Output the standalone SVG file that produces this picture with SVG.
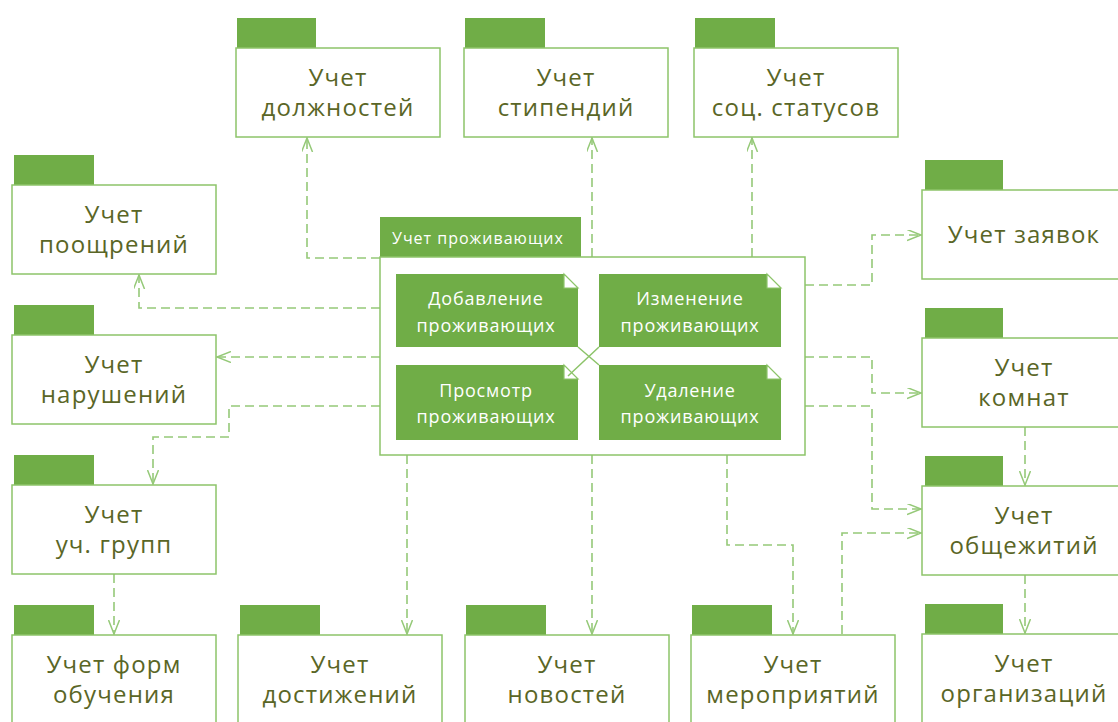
<svg xmlns="http://www.w3.org/2000/svg" width="1118" height="722" viewBox="0 0 1118 722">
<style>
.tab{fill:#70ad47}
.box{fill:#fff;stroke:#8dc46a;stroke-width:1.5}
.t{font-family:"Open Sans","Liberation Sans",sans-serif;font-size:24px;fill:#5a6626;text-anchor:middle;letter-spacing:1.2px}
.n{font-family:"Open Sans","Liberation Sans",sans-serif;font-size:18px;fill:#fff;text-anchor:middle;letter-spacing:0.8px}
.note{fill:#70ad47}
.fold{fill:#fff;stroke:#8dc46a;stroke-width:1.2}
.c{fill:none;stroke:#95c978;stroke-width:1.6;stroke-dasharray:9,5}
.x{fill:none;stroke:#8dc46a;stroke-width:1.5}
</style>
<defs>
<marker id="a" markerUnits="userSpaceOnUse" markerWidth="16" markerHeight="12" refX="14" refY="5.5" orient="auto">
<path d="M0,0 L14,5.5 L0,11" fill="none" stroke="#95c978" stroke-width="1.5"/>
</marker>
</defs>
<rect width="1118" height="722" fill="#fff"/>
<g id="connectors">
<path class="c" d="M380,258 H307 V138" marker-end="url(#a)"/>
<path class="c" d="M592,257 V138" marker-end="url(#a)"/>
<path class="c" d="M752,257 V138" marker-end="url(#a)"/>
<path class="c" d="M380,308 H139 V275" marker-end="url(#a)"/>
<path class="c" d="M380,357 H217" marker-end="url(#a)"/>
<path class="c" d="M380,406 H229 V437 H153 V484" marker-end="url(#a)"/>
<path class="c" d="M114,574 V634" marker-end="url(#a)"/>
<path class="c" d="M407,455 V634" marker-end="url(#a)"/>
<path class="c" d="M592,455 V634" marker-end="url(#a)"/>
<path class="c" d="M727,455 V545 H793 V634" marker-end="url(#a)"/>
<path class="c" d="M842,634 V533 H921" marker-end="url(#a)"/>
<path class="c" d="M805,285 H872 V235 H921" marker-end="url(#a)"/>
<path class="c" d="M805,357 H872 V393 H921" marker-end="url(#a)"/>
<path class="c" d="M805,406 H872 V509 H921" marker-end="url(#a)"/>
<path class="c" d="M1025,427 V485" marker-end="url(#a)"/>
<path class="c" d="M1025,575 V633" marker-end="url(#a)"/>
</g>
<g id="center">
<rect class="tab" x="380" y="217" width="201" height="40"/>
<text x="392" y="244" font-family="Open Sans, Liberation Sans, sans-serif" font-size="16" fill="#fff" letter-spacing="1">Учет проживающих</text>
<rect class="box" x="380" y="257" width="425" height="198"/>
<g id="n1"><polygon class="note" points="396,274 564,274 578,288 578,347 396,347"/><polygon class="fold" points="564,274 564,288 578,288"/>
<text class="n" x="486" y="305">Добавление</text><text class="n" x="486" y="332">проживающих</text></g>
<g id="n2"><polygon class="note" points="599,274 767,274 781,288 781,347 599,347"/><polygon class="fold" points="767,274 767,288 781,288"/>
<text class="n" x="690" y="305">Изменение</text><text class="n" x="690" y="332">проживающих</text></g>
<g id="n3"><polygon class="note" points="396,365 564,365 578,379 578,440 396,440"/><polygon class="fold" points="564,365 564,379 578,379"/>
<text class="n" x="486" y="397">Просмотр</text><text class="n" x="486" y="423">проживающих</text></g>
<g id="n4"><polygon class="note" points="599,365 767,365 781,379 781,440 599,440"/><polygon class="fold" points="767,365 767,379 781,379"/>
<text class="n" x="690" y="397">Удаление</text><text class="n" x="690" y="423">проживающих</text></g>
<path class="x" d="M578,347 L599,365 M599,347 L568,376"/>
</g>
<g id="p-dolzh"><rect class="tab" x="237" y="18" width="79" height="30"/><rect class="box" x="236" y="48" width="204" height="89"/><text class="t" x="338" y="86">Учет</text><text class="t" x="338" y="116">должностей</text></g>
<g id="p-stip"><rect class="tab" x="465" y="18" width="80" height="30"/><rect class="box" x="464" y="48" width="204" height="89"/><text class="t" x="566" y="86">Учет</text><text class="t" x="566" y="116">стипендий</text></g>
<g id="p-soc"><rect class="tab" x="695" y="18" width="80" height="30"/><rect class="box" x="694" y="48" width="204" height="89"/><text class="t" x="796" y="86">Учет</text><text class="t" x="796" y="116">соц. статусов</text></g>
<g id="p-poosh"><rect class="tab" x="14" y="155" width="80" height="30"/><rect class="box" x="12" y="185" width="204" height="89"/><text class="t" x="114" y="223">Учет</text><text class="t" x="114" y="253">поощрений</text></g>
<g id="p-narush"><rect class="tab" x="14" y="305" width="80" height="30"/><rect class="box" x="12" y="335" width="204" height="89"/><text class="t" x="114" y="373">Учет</text><text class="t" x="114" y="403">нарушений</text></g>
<g id="p-grupp"><rect class="tab" x="14" y="455" width="80" height="30"/><rect class="box" x="12" y="485" width="204" height="89"/><text class="t" x="114" y="523">Учет</text><text class="t" x="114" y="553">уч. групп</text></g>
<g id="p-form"><rect class="tab" x="14" y="605" width="80" height="30"/><rect class="box" x="12" y="635" width="204" height="89"/><text class="t" x="114" y="673">Учет форм</text><text class="t" x="114" y="703">обучения</text></g>
<g id="p-dost"><rect class="tab" x="240" y="605" width="80" height="30"/><rect class="box" x="238" y="635" width="204" height="89"/><text class="t" x="340" y="673">Учет</text><text class="t" x="340" y="703">достижений</text></g>
<g id="p-novost"><rect class="tab" x="466" y="605" width="80" height="30"/><rect class="box" x="465" y="635" width="204" height="89"/><text class="t" x="567" y="673">Учет</text><text class="t" x="567" y="703">новостей</text></g>
<g id="p-merop"><rect class="tab" x="692" y="605" width="80" height="30"/><rect class="box" x="691" y="635" width="204" height="89"/><text class="t" x="793" y="673">Учет</text><text class="t" x="793" y="703">мероприятий</text></g>
<g id="p-org"><rect class="tab" x="925" y="604" width="78" height="30"/><rect class="box" x="922" y="634" width="204" height="89"/><text class="t" x="1024" y="672">Учет</text><text class="t" x="1024" y="702">организаций</text></g>
<g id="p-zayav"><rect class="tab" x="925" y="160" width="78" height="30"/><rect class="box" x="922" y="190" width="204" height="89"/><text class="t" x="1024" y="243">Учет заявок</text></g>
<g id="p-komn"><rect class="tab" x="925" y="308" width="78" height="30"/><rect class="box" x="922" y="338" width="204" height="89"/><text class="t" x="1024" y="376">Учет</text><text class="t" x="1024" y="406">комнат</text></g>
<g id="p-obsh"><rect class="tab" x="925" y="456" width="78" height="30"/><rect class="box" x="922" y="486" width="204" height="89"/><text class="t" x="1024" y="524">Учет</text><text class="t" x="1024" y="554">общежитий</text></g>
</svg>
